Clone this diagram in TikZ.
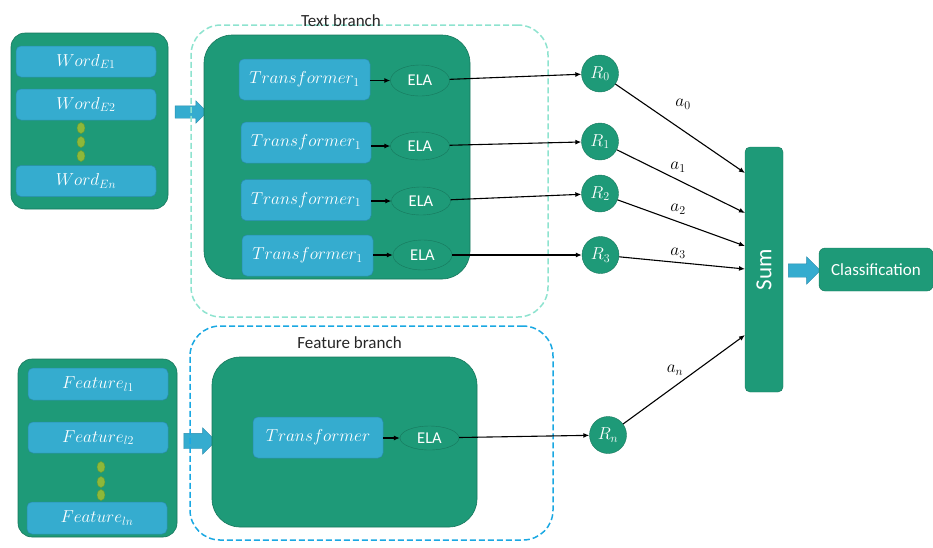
\documentclass[tikz,border=0pt]{standalone}
\usepackage{fontspec}
\setsansfont{Carlito}
\usetikzlibrary{shapes.geometric,shapes.arrows,arrows.meta}
\definecolor{gfill}{HTML}{1E9A78}
\definecolor{gdraw}{HTML}{17775C}
\definecolor{bfill}{HTML}{35ACCF}
\definecolor{bdraw}{HTML}{2A8DAD}
\definecolor{dotf}{HTML}{8DB83A}
\definecolor{dotd}{HTML}{6E9A2C}
\definecolor{aqua}{HTML}{8EE3CF}
\definecolor{skyb}{HTML}{1AA8E2}
\begin{document}
\begin{tikzpicture}[x=1pt,y=-1pt,
 greenbox/.style={draw=gdraw, fill=gfill, rounded corners=14pt, line width=0.6pt, inner sep=0pt},
 innerbox/.style={draw=gdraw, fill=gfill, rounded corners=28pt, line width=0.6pt, inner sep=0pt},
 bluebox/.style={draw=bdraw, fill=bfill, rounded corners=5pt, text=white, inner sep=0pt, line width=0.5pt, font=\fontsize{17.5}{20}\selectfont},
 ela/.style={ellipse, draw=gdraw, fill=gfill, text=white, font=\sffamily\fontsize{16.5}{19}\selectfont, inner sep=0pt, minimum width=59pt, minimum height=30pt},
 rnode/.style={circle, fill=gfill, draw=gdraw, text=white, minimum size=37pt, inner sep=0pt, font=\fontsize{16.5}{19}\selectfont},
 dotnode/.style={ellipse, fill=dotf, draw=dotd, minimum width=8pt, minimum height=11pt, inner sep=0pt},
 bigarrow/.style={single arrow, fill=bfill, draw=bdraw, line width=0.4pt, inner xsep=0pt, inner ysep=7.5pt, minimum height=32pt, minimum width=0pt, single arrow head extend=5.5pt},
 conn/.style={-{Latex[length=6pt,width=5pt]}, line width=1.1pt, black},
 wlabel/.style={font=\fontsize{16.5}{19}\selectfont, inner sep=1pt},
 branchlabel/.style={font=\sffamily\fontsize{17}{20}\selectfont, text=black!85},
 dashbox/.style={rounded corners=30pt, line width=1.5pt, dash pattern=on 6pt off 3pt, inner sep=0pt}
]
\useasboundingbox (0,0) rectangle (933,547);

% ---------- text side ----------
\node[greenbox, minimum width=157pt, minimum height=176pt] (wordbox) at (89.5,121) {};
\node[bluebox, minimum width=140pt, minimum height=31pt] (w1) at (86,61.5) {$Word_{E1}$};
\node[bluebox, minimum width=140pt, minimum height=31pt] (w2) at (86,104.5) {$Word_{E2}$};
\node[bluebox, minimum width=140pt, minimum height=31pt] (wn) at (86,181) {$Word_{En}$};
\node[dotnode] (wd1) at (81,128) {};
\node[dotnode] (wd2) at (81,142) {};
\node[dotnode] (wd3) at (81,156) {};
\node[bigarrow, inner ysep=6pt, single arrow head extend=5pt] (arrw) at (188,112) {};

\node[innerbox, minimum width=266pt, minimum height=244pt] (tbox) at (337,157) {};
\node[bluebox, minimum width=131pt, minimum height=41pt] (t1) at (304.5,79.5) {$Transformer_1$};
\node[bluebox, minimum width=130pt, minimum height=41pt] (t2) at (306,142.5) {$Transformer_1$};
\node[bluebox, minimum width=130pt, minimum height=41pt] (t3) at (306,200) {$Transformer_1$};
\node[bluebox, minimum width=131pt, minimum height=41pt] (t4) at (307.5,255.5) {$Transformer_1$};
\node[ela, minimum height=31pt] (e1) at (420,80.5) {ELA};
\node[ela, minimum height=28pt] (e2) at (420,146) {ELA};
\node[ela, minimum height=28pt] (e3) at (421,201) {ELA};
\node[ela, minimum height=30pt] (e4) at (422.5,255) {ELA};

\node[dashbox, draw=aqua, minimum width=357pt, minimum height=292pt] (textbranch) at (369.5,171) {};
\node[branchlabel] (tlabel) at (341,21) {Text branch};

\draw[conn] (t1.east |- e1.west) -- (e1.west);
\draw[conn] (t2.east |- e2.west) -- (e2.west);
\draw[conn] (t3.east |- e3.west) -- (e3.west);
\draw[conn] (t4.east |- e4.west) -- (e4.west);

\node[rnode] (r0) at (600,73.5) {$R_0$};
\node[rnode] (r1) at (600,141.5) {$R_1$};
\node[rnode] (r2) at (600,193.5) {$R_2$};
\node[rnode] (r3) at (600.5,255) {$R_3$};

\draw[conn] (e1) -- (r0);
\draw[conn] (e2) -- (r1);
\draw[conn] (e3) -- (r2);
\draw[conn] (e4) -- (r3);

% ---------- feature side ----------
\node[greenbox, minimum width=159pt, minimum height=178pt] (featbox) at (97.5,448) {};
\node[bluebox, minimum width=140pt, minimum height=32pt] (f1) at (98,384) {$Feature_{l1}$};
\node[bluebox, minimum width=140pt, minimum height=31pt] (f2) at (98,437.5) {$Feature_{l2}$};
\node[bluebox, minimum width=140pt, minimum height=32pt] (fn) at (97,518) {$Feature_{ln}$};
\node[dotnode] (fd1) at (101,467) {};
\node[dotnode] (fd2) at (101,482) {};
\node[dotnode] (fd3) at (101,495) {};
\node[bigarrow] (arrf) at (196,441) {};

\node[innerbox, minimum width=265pt, minimum height=170pt] (fbox) at (344.5,442) {};
\node[bluebox, minimum width=130pt, minimum height=41pt] (tf) at (318,437.5) {$Transformer$};
\node[ela, minimum height=24pt] (ef) at (429.5,438) {ELA};
\draw[conn] (tf.east |- ef.west) -- (ef.west);

\node[dashbox, draw=skyb, minimum width=363pt, minimum height=214pt] (featbranch) at (371.5,433) {};
\node[branchlabel] (flabel) at (349.5,343) {Feature branch};

\node[rnode] (rn) at (608,435) {$R_n$};
\draw[conn] (ef) -- (rn);

% ---------- sum and classification ----------
\node[draw=gdraw, fill=gfill, rounded corners=5pt, minimum width=38pt, minimum height=245pt, inner sep=0pt] (sum) at (764,269.5) {};
\node[rotate=90, text=white, font=\sffamily\fontsize{23}{26}\selectfont] (sumtext) at (sum.center) {Sum};

\coordinate (s0) at (745,173);
\coordinate (s1) at (745,213);
\coordinate (s2) at (745,246);
\coordinate (s3) at (745,269);
\coordinate (sn) at (745,335);

\draw[conn] (r0) -- (s0);
\draw[conn] (r1) -- (s1);
\draw[conn] (r2) -- (s2);
\draw[conn] (r3) -- (s3);
\draw[conn] (rn) -- (sn);

\node[wlabel] (a0) at (683,104) {$a_0$};
\node[wlabel] (a1) at (678,167) {$a_1$};
\node[wlabel] (a2) at (678,209) {$a_2$};
\node[wlabel] (a3) at (678,253) {$a_3$};
\node[wlabel] (an) at (675,370) {$a_n$};

\node[bigarrow, inner ysep=6.5pt, single arrow head extend=7pt] (arrs) at (801,270.5) {};
\node[draw=gdraw, fill=gfill, rounded corners=6pt, minimum width=114pt, minimum height=43pt, inner sep=0pt, text=white, font=\sffamily\fontsize{17}{20}\selectfont] (cls) at (876,269.5) {Classification};
\end{tikzpicture}
\end{document}
